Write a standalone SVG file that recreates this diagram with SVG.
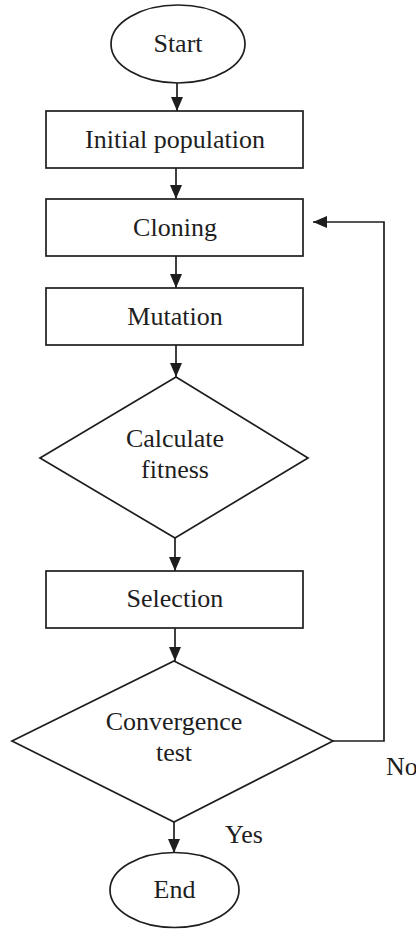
<svg xmlns="http://www.w3.org/2000/svg" width="416" height="929" viewBox="0 0 416 929">
  <style>
    .shape { fill: #ffffff; stroke: #1e1e1e; stroke-width: 1.7; }
    .conn { fill: none; stroke: #1e1e1e; stroke-width: 1.7; }
    text { font-family: "Liberation Serif", "Times New Roman", serif; font-size: 26px; fill: #1e1e1e; }
    .c { text-anchor: middle; }
  </style>
  <defs>
    <marker id="arrow" viewBox="0 0 14 12" refX="14" refY="6" markerWidth="14" markerHeight="12" markerUnits="userSpaceOnUse" orient="auto">
      <path d="M0,0 L14,6 L0,12 Z" fill="#1e1e1e"/>
    </marker>
  </defs>
  <rect width="416" height="929" fill="#ffffff"/>

  <g id="connectors">
    <line class="conn" x1="177" y1="83" x2="177" y2="111" marker-end="url(#arrow)"/>
    <line class="conn" x1="176" y1="168" x2="176" y2="199" marker-end="url(#arrow)"/>
    <line class="conn" x1="176" y1="256" x2="176" y2="288" marker-end="url(#arrow)"/>
    <line class="conn" x1="176" y1="345" x2="176" y2="377" marker-end="url(#arrow)"/>
    <line class="conn" x1="175" y1="538" x2="175" y2="571" marker-end="url(#arrow)"/>
    <line class="conn" x1="175" y1="628" x2="175" y2="661" marker-end="url(#arrow)"/>
    <line class="conn" x1="174" y1="822" x2="174" y2="853" marker-end="url(#arrow)"/>
    <polyline class="conn" points="333,741 384,741 384,222 313,222" marker-end="url(#arrow)"/>
    <text x="386" y="775">No</text>
    <text x="225" y="843">Yes</text>
  </g>

  <g id="start">
    <ellipse class="shape" cx="178" cy="44" rx="67" ry="39"/>
    <text class="c" x="178" y="52">Start</text>
  </g>
  <g id="initial-population">
    <rect class="shape" x="46" y="111" width="257" height="57"/>
    <text class="c" x="175" y="148">Initial population</text>
  </g>
  <g id="cloning">
    <rect class="shape" x="46" y="199" width="257" height="57"/>
    <text class="c" x="175" y="236">Cloning</text>
  </g>
  <g id="mutation">
    <rect class="shape" x="46" y="288" width="257" height="57"/>
    <text class="c" x="175" y="325">Mutation</text>
  </g>
  <g id="calculate-fitness">
    <polygon class="shape" points="176,377 308,458 175,538 40,458"/>
    <text class="c" x="175" y="447">Calculate</text>
    <text class="c" x="175" y="478">fitness</text>
  </g>
  <g id="selection">
    <rect class="shape" x="46" y="571" width="257" height="57"/>
    <text class="c" x="175" y="607">Selection</text>
  </g>
  <g id="convergence-test">
    <polygon class="shape" points="174,661 333,741 174,822 12,741"/>
    <text class="c" x="174" y="730">Convergence</text>
    <text class="c" x="174" y="761">test</text>
  </g>
  <g id="end">
    <ellipse class="shape" cx="174.5" cy="890" rx="64.5" ry="37.5"/>
    <text class="c" x="174.5" y="898">End</text>
  </g>
</svg>
